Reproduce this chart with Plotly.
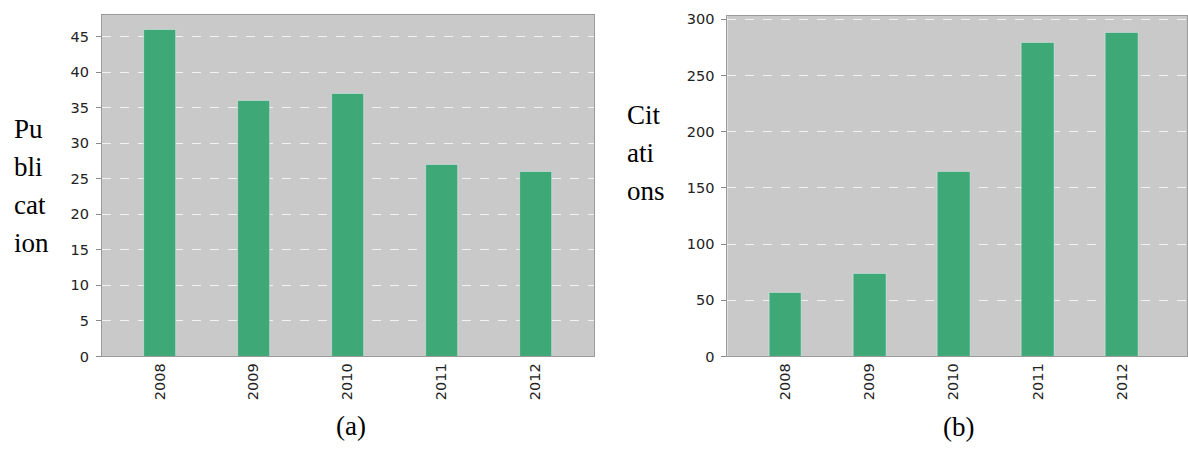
import plotly.graph_objects as go

W, H = 1188, 454

years = ["2008", "2009", "2010", "2011", "2012"]
publications = [46, 36, 37, 27, 26]
citations = [57, 74, 164, 279, 288]

pub_ticks = [0, 5, 10, 15, 20, 25, 30, 35, 40, 45]
cit_ticks = [0, 50, 100, 150, 200, 250, 300]

BAR = "#3fa877"
BG = "#c9c9c9"
TICK_FONT = dict(family="DejaVu Sans", size=14.5, color="#222222")
SERIF = dict(family="Liberation Serif", size=27, color="#000000")


def px_x(p):
    return p / W


def px_y(p):
    return 1 - p / H


fig = go.Figure()
fig.add_trace(go.Bar(x=years, y=publications, marker_color=BAR, width=0.34,
                     xaxis="x", yaxis="y", showlegend=False))
fig.add_trace(go.Bar(x=years, y=citations, marker_color=BAR, width=0.39,
                     xaxis="x2", yaxis="y2", showlegend=False))

common_x = dict(type="category", showgrid=False, ticks="", tickangle=-90,
                tickfont=TICK_FONT, showline=True, linecolor="#9a9a9a",
                linewidth=1, mirror=True, zeroline=False, fixedrange=True)
common_y = dict(showgrid=True, gridcolor="#f2f2f2", griddash="dash", gridwidth=1,
                ticks="outside", ticklen=5, tickcolor="#888888",
                tickfont=TICK_FONT, showline=True, linecolor="#9a9a9a",
                linewidth=1, mirror=True, zeroline=False, ticklabelstandoff=4)

fig.update_layout(
    width=W, height=H,
    margin=dict(l=0, r=0, t=0, b=0),
    paper_bgcolor="white",
    plot_bgcolor=BG,
    bargap=0,
    xaxis=dict(domain=[px_x(102), px_x(595)], range=[-0.617, 4.628],
               anchor="y", **common_x),
    yaxis=dict(domain=[px_y(362), px_y(11)], range=[0, 48.1],
               tickvals=pub_ticks, anchor="x", **common_y),
    xaxis2=dict(domain=[px_x(728), 1.0], range=[-0.688, 4.772],
                anchor="y2", **common_x),
    yaxis2=dict(domain=[px_y(362), px_y(12)], range=[0, 303.2],
                tickvals=cit_ticks, anchor="x2", **common_y),
)

annotations = []
# Axis titles broken into short stacked lines
for text, yc in zip(["Pu", "bli", "cat", "ion"], [128, 167, 206, 245]):
    annotations.append(dict(text=text, x=px_x(12), y=px_y(yc), xref="paper",
                            yref="paper", xanchor="left", yanchor="middle",
                            showarrow=False, font=SERIF))
for text, yc in zip(["Cit", "ati", "ons"], [114, 153, 192]):
    annotations.append(dict(text=text, x=px_x(626), y=px_y(yc), xref="paper",
                            yref="paper", xanchor="left", yanchor="middle",
                            showarrow=False, font=SERIF))
# Panel captions
annotations.append(dict(text="(a)", x=px_x(351), y=px_y(433), xref="paper",
                        yref="paper", xanchor="center", yanchor="middle",
                        showarrow=False, font=SERIF))
annotations.append(dict(text="(b)", x=px_x(959), y=px_y(434), xref="paper",
                        yref="paper", xanchor="center", yanchor="middle",
                        showarrow=False, font=SERIF))
fig.update_layout(annotations=annotations)

fig.write_html("out.html")
